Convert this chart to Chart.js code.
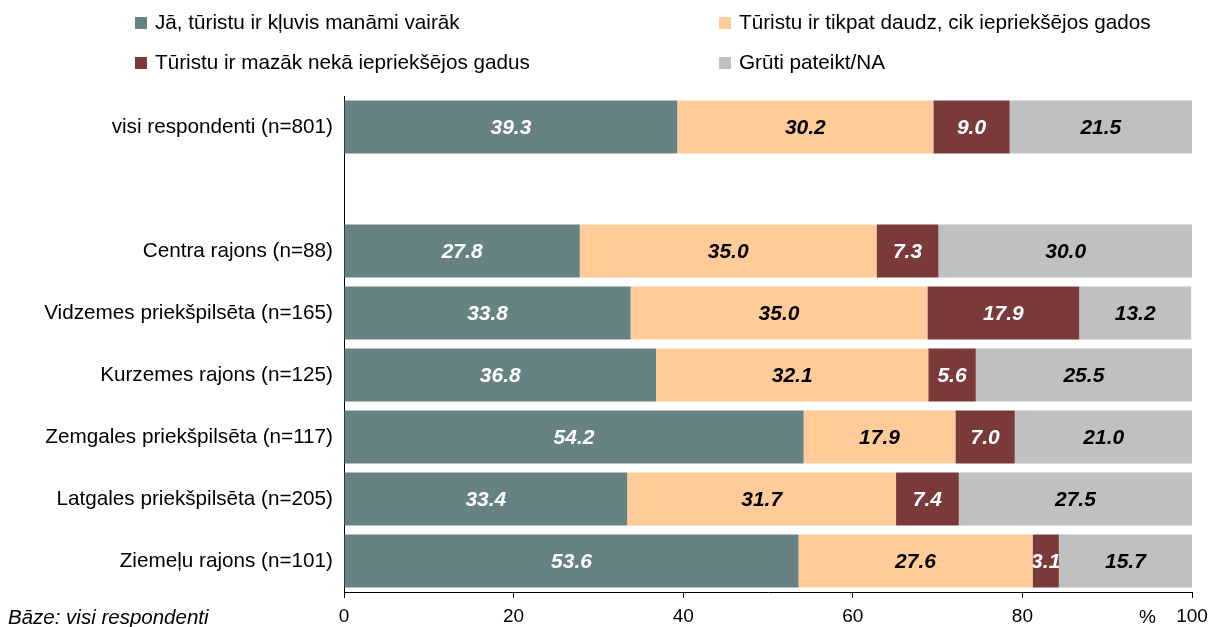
<!DOCTYPE html>
<html>
<head>
<meta charset="utf-8">
<script src="https://cdn.jsdelivr.net/npm/chart.js@4/dist/chart.umd.min.js"></script>
<style>
  html, body { margin: 0; padding: 0; background: #fff; }
  #wrap { position: relative; width: 1208px; height: 627px; font-family: "Liberation Sans", Arial, sans-serif; }
  canvas { position: absolute; left: 0; top: 0; }
  .leg { position: absolute; font-size: 20.7px; color: #000; line-height: 24px; white-space: nowrap; }
  .leg span.box { display: inline-block; width: 12px; height: 12px; margin-right: 8px; vertical-align: 0px; }
  .txt { position: absolute; font-size: 20.5px; color: #000; white-space: nowrap; line-height: 24px; }
</style>
</head>
<body>
<div id="wrap">
  <canvas id="c" width="1208" height="627"></canvas>
  <div id="legend"></div>
  <div class="txt" style="left:8px; top:605px; font-style: italic;">Bāze: visi respondenti</div>
  <div class="txt" style="left:1139px; top:605px; font-size:19px;">%</div>
</div>
<script>
const categories = [
  'visi respondenti (n=801)',
  '',
  'Centra rajons (n=88)',
  'Vidzemes priekšpilsēta (n=165)',
  'Kurzemes rajons (n=125)',
  'Zemgales priekšpilsēta (n=117)',
  'Latgales priekšpilsēta (n=205)',
  'Ziemeļu rajons (n=101)'
];
const seriesNames = [
  'Jā, tūristu ir kļuvis manāmi vairāk',
  'Tūristu ir tikpat daudz, cik iepriekšējos gados',
  'Tūristu ir mazāk nekā iepriekšējos gadus',
  'Grūti pateikt/NA'
];
const moreTourists = [39.3, null, 27.8, 33.8, 36.8, 54.2, 33.4, 53.6];
const sameTourists = [30.2, null, 35.0, 35.0, 32.1, 17.9, 31.7, 27.6];
const fewerTourists = [9.0, null, 7.3, 17.9, 5.6, 7.0, 7.4, 3.1];
const hardToSay = [21.5, null, 30.0, 13.2, 25.5, 21.0, 27.5, 15.7];
const xTicks = [0, 20, 40, 60, 80, 100];

const colors = ['#668282', '#FFCC99', '#7A3A3A', '#C0C0C0'];
const labelColors = ['#ffffff', '#000000', '#ffffff', '#000000'];
const seriesValues = [moreTourists, sameTourists, fewerTourists, hardToSay];

// HTML legend (2 x 2 grid)
const legendPos = [
  {left: 135, top: 10}, {left: 719, top: 10},
  {left: 135, top: 50}, {left: 719, top: 50}
];
const legendOrder = [0, 1, 2, 3];
const legendEl = document.getElementById('legend');
legendOrder.forEach((si, i) => {
  const d = document.createElement('div');
  d.className = 'leg';
  d.style.left = legendPos[i].left + 'px';
  d.style.top = legendPos[i].top + 'px';
  d.innerHTML = '<span class="box" style="background:' + colors[si] + '"></span>' + seriesNames[si];
  legendEl.appendChild(d);
});

const valueLabels = {
  id: 'valueLabels',
  afterDatasetsDraw(chart) {
    const ctx = chart.ctx;
    ctx.save();
    ctx.font = 'italic bold 21px "Liberation Sans", Arial, sans-serif';
    ctx.textAlign = 'center';
    ctx.textBaseline = 'middle';
    chart.data.datasets.forEach((ds, di) => {
      const meta = chart.getDatasetMeta(di);
      meta.data.forEach((el, i) => {
        const v = ds.data[i];
        if (v === null || v === undefined) return;
        const p = el.getProps(['x', 'y', 'base'], true);
        const cx = (p.x + p.base) / 2;
        ctx.save();
        ctx.beginPath();
        const left = Math.min(p.x, p.base), w = Math.abs(p.x - p.base);
        ctx.rect(left, p.y - 30, w, 60);
        ctx.clip();
        ctx.fillStyle = labelColors[di];
        ctx.fillText(v.toFixed(1), cx, p.y + 1);
        ctx.restore();
      });
    });
    ctx.restore();
  }
};

new Chart(document.getElementById('c'), {
  type: 'bar',
  data: {
    labels: categories,
    datasets: seriesValues.map((vals, i) => ({
      label: seriesNames[i],
      data: vals,
      backgroundColor: colors[i],
      borderWidth: 0,
      barPercentage: 1.0,
      categoryPercentage: 0.855
    }))
  },
  options: {
    indexAxis: 'y',
    responsive: false,
    animation: false,
    layout: { padding: { top: 96, right: 0, bottom: 0, left: 0 } },
    plugins: {
      legend: { display: false },
      tooltip: { enabled: false }
    },
    scales: {
      x: {
        stacked: true,
        min: 0,
        max: 100,
        afterBuildTicks(scale) { scale.ticks = xTicks.map(v => ({ value: v })); },
        afterFit(scale) { scale.height = 35; scale.paddingRight = 16; scale.paddingLeft = 0; },
        grid: { display: true, drawOnChartArea: false, drawTicks: true, tickLength: 6, color: '#000' },
        border: { display: true, color: '#000', width: 1 },
        ticks: {
          color: '#000',
          font: { family: '"Liberation Sans", Arial, sans-serif', size: 19 },
          padding: 7,
          maxRotation: 0
        }
      },
      y: {
        stacked: true,
        afterFit(scale) { scale.width = 344; },
        grid: { display: false },
        border: { display: true, color: '#000', width: 1 },
        ticks: {
          color: '#000',
          font: { family: '"Liberation Sans", Arial, sans-serif', size: 20.7 },
          padding: 3,
          autoSkip: false
        }
      }
    }
  },
  plugins: [valueLabels]
});
</script>
</body>
</html>
